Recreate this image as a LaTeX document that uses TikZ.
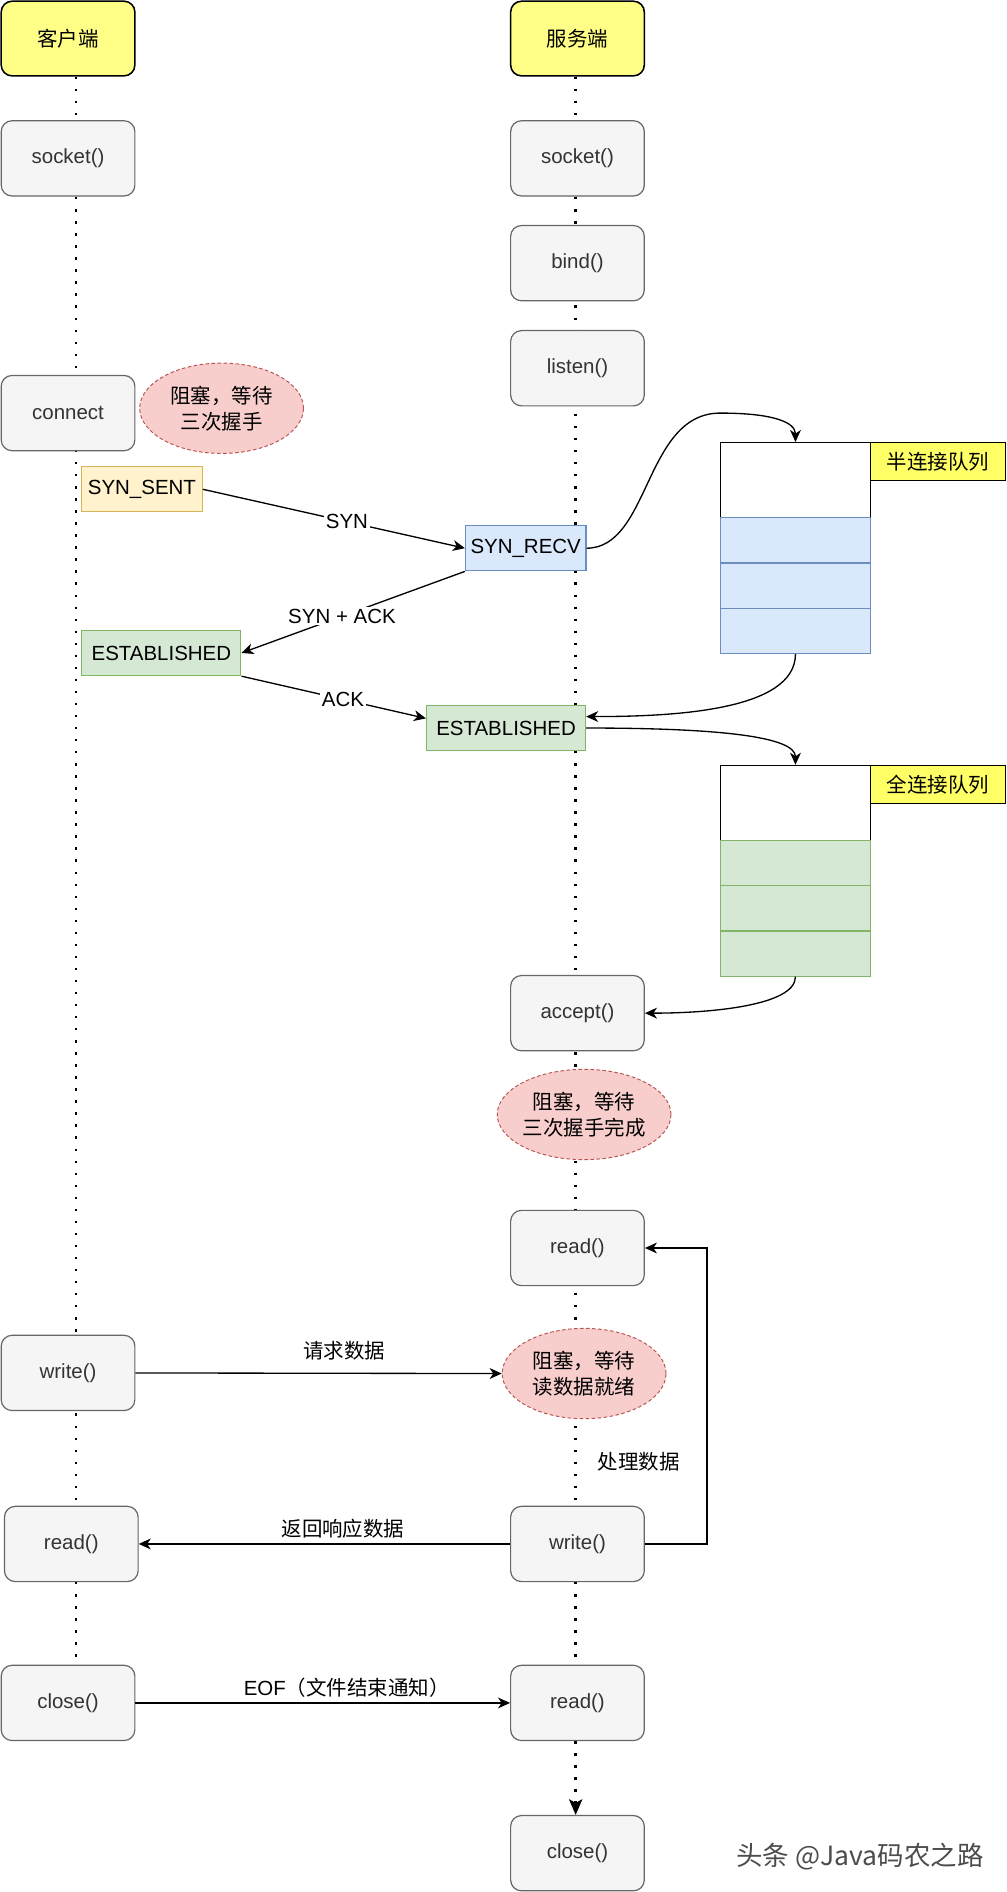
\documentclass[tikz,border=0pt]{standalone}
\usepackage{fontspec}
\setmainfont{Liberation Sans}
\newfontfamily\cjk{Noto Sans CJK SC}
\usetikzlibrary{arrows.meta,backgrounds,calc,shapes.geometric}
\definecolor{hdrfill}{HTML}{FFFF88}
\definecolor{qfill}{HTML}{FFFF66}
\definecolor{boxfill}{HTML}{F5F5F5}
\definecolor{boxline}{HTML}{666666}
\definecolor{txt}{HTML}{333333}
\definecolor{redfill}{HTML}{F8CECC}
\definecolor{redline}{HTML}{B85450}
\definecolor{yelfill}{HTML}{FFF2CC}
\definecolor{yelline}{HTML}{D6B656}
\definecolor{bluefill}{HTML}{DAE8FC}
\definecolor{blueline}{HTML}{6C8EBF}
\definecolor{grnfill}{HTML}{D5E8D4}
\definecolor{grnline}{HTML}{82B366}
\newcommand\myfs{\fontsize{17}{21.5}\selectfont}
\begin{document}
\begin{tikzpicture}[x=1pt,y=-1pt,
  hdr/.style={rectangle, rounded corners=9pt, draw=black, line width=1.3pt, fill=hdrfill, minimum width=111pt, minimum height=62pt, inner sep=0pt, font=\cjk\myfs},
  fn/.style={rectangle, rounded corners=9pt, draw=boxline, line width=1pt, fill=boxfill, text=txt, minimum width=111pt, minimum height=62.5pt, inner sep=0pt, font=\myfs},
  waitnode/.style={ellipse, draw=redline, dash pattern=on 3pt off 2pt, line width=0.8pt, fill=redfill, minimum width=136pt, minimum height=75pt, inner sep=0pt, align=center, font=\cjk\myfs},
  state/.style={rectangle, line width=1pt, minimum height=37.5pt, inner sep=0pt, font=\myfs},
  cell/.style={rectangle, line width=1pt, minimum width=125pt, minimum height=37.5pt, inner sep=0pt},
  qlbl/.style={rectangle, draw=black, line width=1pt, fill=qfill, minimum width=112pt, minimum height=31.5pt, inner sep=0pt, font=\cjk\myfs},
  arr/.style={-{Stealth[length=10pt,width=9pt,inset=3pt]}, line width=1.1pt},
  lbl/.style={fill=white, inner sep=1.5pt, font=\myfs},
  life/.style={line width=2pt, dash pattern=on 2pt off 8pt},
]
\useasboundingbox (0,0) rectangle (836,1571);

% client column
\node[hdr] (chead) at (56.5,32) {客户端};
\node[fn] (csock) at (56.5,131.5) {socket()};
\node[fn] (cconn) at (56.5,343) {connect};
\node[waitnode] (w1) at (184,339) {阻塞，等待\\三次握手};
\node[state, draw=yelline, fill=yelfill, minimum width=100pt] (synsent) at (117.85,406.25) {SYN\_SENT};
\node[state, draw=grnline, fill=grnfill, minimum width=132pt] (estc) at (134,542.2) {ESTABLISHED};
\node[fn] (cwrite) at (56.5,1140) {write()};
\node[fn] (cread) at (59.2,1282) {read()};
\node[fn] (cclose) at (56.5,1414) {close()};

% server column
\node[hdr] (shead) at (479.5,32) {服务端};
\node[fn] (ssock) at (479.5,131.5) {socket()};
\node[fn] (sbind) at (479.5,218.5) {bind()};
\node[fn] (slisten) at (479.5,305.75) {listen()};
\node[state, draw=blueline, fill=bluefill, minimum width=100pt] (synrecv) at (436.5,455.2) {SYN\_RECV};
\node[state, draw=grnline, fill=grnfill, minimum width=132pt] (ests) at (420.2,604.5) {ESTABLISHED};
\node[fn] (accept) at (479.5,841.25) {accept()};
\node[waitnode] (w2) at (485,925.4) {阻塞，等待\\三次握手完成};
\node[fn] (sread) at (479.5,1036.25) {read()};
\node[waitnode] (w3) at (485,1140.5) {阻塞，等待\\读数据就绪};
\node[font=\cjk\myfs] (proc) at (530.5,1213.5) {处理数据};
\node[fn] (swrite) at (479.5,1282) {write()};
\node[fn] (sread2) at (479.5,1414) {read()};
\node[fn] (sclose) at (479.5,1538.75) {close()};

% half-connection queue
\node[cell, draw=black, fill=white, minimum height=62.5pt] (hq0) at (660.5,398.75) {};
\node[cell, draw=blueline, fill=bluefill] (hq1) at (660.5,448.75) {};
\node[cell, draw=blueline, fill=bluefill] (hq2) at (660.5,486.25) {};
\node[cell, draw=blueline, fill=bluefill] (hq3) at (660.5,523.75) {};
\node[qlbl] (hql) at (779,383.25) {半连接队列};

% full-connection queue
\node[cell, draw=black, fill=white, minimum height=62.5pt] (fq0) at (660.5,666.75) {};
\node[cell, draw=grnline, fill=grnfill] (fq1) at (660.5,716.75) {};
\node[cell, draw=grnline, fill=grnfill] (fq2) at (660.5,754.25) {};
\node[cell, draw=grnline, fill=grnfill] (fq3) at (660.5,791.75) {};
\node[qlbl] (fql) at (779,651.5) {全连接队列};

% lifelines
\begin{scope}[on background layer]
\draw[life] ($(chead.south)+(6.5,0)$) -- ($(cclose.north)+(6.5,0)$);
\draw[life] ($(shead.south)+(-1.5,0)$) -- ($(sread2.south)+(-1.5,0)$);
\end{scope}
\draw[life, -{Stealth[length=13pt,width=11pt,inset=3pt]}] ($(sread2.south)+(-1.5,0)$) -- ($(sclose.north)+(-1.5,0)$);

% handshake
\draw[arr] (synsent.east) -- node[lbl, pos=0.55]{SYN} (synrecv.west);
\draw[arr] (synrecv.south west) -- node[lbl, pos=0.55]{SYN + ACK} (estc.east);
\draw[arr] (estc.south east) -- node[lbl, pos=0.55]{ACK} ($(ests.west)+(0,-8)$);

% queues
\draw[arr] (synrecv.east) .. controls (540,455.2) and (535,343) .. (598,343) .. controls (640,343) and (660.5,350) .. (hq0.north);
\draw[arr] (hq3.south) .. controls (660.5,590) and (560,595) .. ($(ests.east)+(0,-9.5)$);
\draw[arr] (ests.east) .. controls (600,604.5) and (660.5,612) .. (fq0.north);
\draw[arr] (fq3.south) .. controls (660.5,835) and (590,841.25) .. (accept.east);

% data exchange
\draw[arr] (cwrite.east) -- node[pos=0.57, yshift=19pt, font=\cjk\myfs]{请求数据} (w3.west);
\draw[arr] (swrite.west) -- node[pos=0.45, yshift=13pt, font=\cjk\myfs]{返回响应数据} (cread.east);
\draw[arr] (cclose.east) -- node[pos=0.564, yshift=12.5pt, font=\myfs]{EOF{\cjk （文件结束通知）}} (sread2.west);
\draw[arr, line width=1pt] (swrite.east) -- ++(51.5,0) |- (sread.east);

% watermark
\node[font=\cjk\fontsize{22}{26}\selectfont, text=black!70] (wm) at (714,1541.5) {头条 @Java码农之路};
\end{tikzpicture}
\end{document}
